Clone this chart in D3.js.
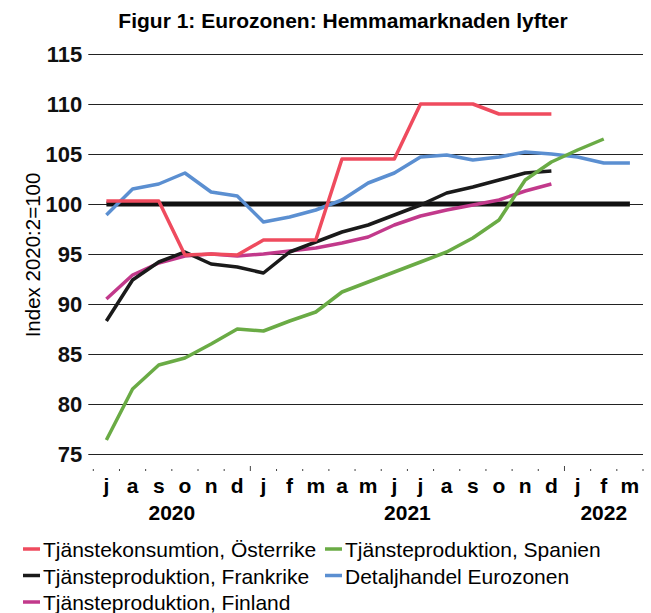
<!DOCTYPE html>
<html>
<head>
<meta charset="utf-8">
<script src="https://cdn.jsdelivr.net/npm/d3@7"></script>
<style>
  body { margin: 0; background: #fff; }
  svg { font-family: "Liberation Sans", Arial, sans-serif; }
</style>
</head>
<body>
<script>
const months = ['j','a','s','o','n','d','j','f','m','a','m','j','j','a','s','o','n','d','j','f','m'];
const years = [
  { label: '2020', from: 0, to: 6 },
  { label: '2021', from: 6, to: 18 },
  { label: '2022', from: 18, to: 21 }
];
const yTicks = [75, 80, 85, 90, 95, 100, 105, 110, 115];

const osterrike = [100.3,100.3,100.3,94.9,95.0,94.9,96.4,96.4,96.4,104.5,104.5,104.5,110.0,110.0,110.0,109.0,109.0,109.0,null,null,null];
const spanien = [76.4,81.5,83.9,84.6,86.0,87.5,87.3,88.3,89.2,91.2,92.2,93.2,94.2,95.2,96.6,98.4,102.4,104.2,105.4,106.5,null];
const frankrike = [88.3,92.4,94.2,95.2,94.0,93.7,93.1,95.2,96.2,97.2,97.9,98.9,99.9,101.1,101.7,102.4,103.1,103.3,null,null,null];
const detaljhandel = [98.9,101.5,102.0,103.1,101.2,100.8,98.2,98.7,99.4,100.4,102.1,103.1,104.7,104.9,104.4,104.7,105.2,105.0,104.7,104.1,104.1];
const finland = [90.5,92.9,94.1,94.8,95.0,94.8,95.0,95.3,95.6,96.1,96.7,97.9,98.8,99.4,99.9,100.4,101.3,102.0,null,null,null];
const basniva = months.map(() => 100);

const series = [
  { name: 'Tjänsteproduktion, Finland', values: finland, color: '#c2398b' },
  { name: 'Tjänsteproduktion, Frankrike', values: frankrike, color: '#1a1a1a' },
  { name: 'Detaljhandel Eurozonen', values: detaljhandel, color: '#5b8fd1' },
  { name: 'Tjänsteproduktion, Spanien', values: spanien, color: '#6aab45' },
  { name: 'Tjänstekonsumtion, Österrike', values: osterrike, color: '#ef4b5e' }
];

const chartWidth = 651, chartHeight = 613;
const plot = { left: 93.3, right: 643, top: 54, bottom: 454 };

const svg = d3.select('body').append('svg')
  .attr('width', chartWidth)
  .attr('height', chartHeight);

const x = d3.scaleBand()
  .domain(d3.range(months.length))
  .range([plot.left, plot.right]);

const y = d3.scaleLinear()
  .domain([75, 115])
  .range([plot.bottom, plot.top]);

// titel
svg.append('text')
  .attr('x', 343).attr('y', 28)
  .attr('text-anchor', 'middle')
  .attr('font-weight', 'bold')
  .attr('font-size', 21)
  .text('Figur 1: Eurozonen: Hemmamarknaden lyfter');

// y-axel med stödlinjer
const yAxis = d3.axisLeft(y)
  .tickValues(yTicks)
  .tickSize(-(plot.right - plot.left + 5))
  .tickPadding(6);

const gy = svg.append('g')
  .attr('transform', 'translate(' + (plot.left - 5) + ',0)')
  .call(yAxis);
gy.select('.domain').remove();
gy.selectAll('line').attr('stroke', '#222').attr('stroke-width', 1);
gy.selectAll('text')
  .attr('font-size', 22)
  .attr('font-weight', 'bold')
  .attr('fill', '#111')
  .attr('font-family', '"Liberation Sans", Arial, sans-serif');

svg.append('text')
  .attr('transform', 'translate(40,255) rotate(-90)')
  .attr('text-anchor', 'middle')
  .attr('font-size', 20.5)
  .text('Index 2020:2=100');

// x-axel: små streck mellan månader
const tickPos = d3.range(months.length + 1).map(i => plot.left + i * x.step());
const yearBreaks = years.map(d => d.from);
svg.append('g').selectAll('line')
  .data(tickPos)
  .join('line')
  .attr('x1', d => d).attr('x2', d => d)
  .attr('y1', (d, i) => yearBreaks.includes(i) && i > 0 ? 466 : 469)
  .attr('y2', 471)
  .attr('stroke', '#444')
  .attr('stroke-width', 1);

svg.append('g').selectAll('text')
  .data(months)
  .join('text')
  .attr('x', (d, i) => x(i) + x.bandwidth() / 2)
  .attr('y', 493)
  .attr('text-anchor', 'middle')
  .attr('font-size', 21)
  .attr('font-weight', 'bold')
  .text(d => d);

svg.append('g').selectAll('text')
  .data(years)
  .join('text')
  .attr('x', d => (x(d.from) + x(d.to - 1) + x.bandwidth()) / 2)
  .attr('y', 520)
  .attr('text-anchor', 'middle')
  .attr('font-size', 21)
  .attr('font-weight', 'bold')
  .text(d => d.label);

// linjer
const line = d3.line()
  .defined(d => d != null)
  .x((d, i) => x(i) + x.bandwidth() / 2)
  .y(d => y(d));

svg.append('path')
  .attr('d', line(basniva))
  .attr('fill', 'none')
  .attr('stroke', '#111')
  .attr('stroke-width', 5);

svg.append('g').selectAll('path')
  .data(series)
  .join('path')
  .attr('d', d => line(d.values))
  .attr('fill', 'none')
  .attr('stroke', d => d.color)
  .attr('stroke-width', 3.5)
  .attr('stroke-linejoin', 'round');

// legend
const legendItems = [
  { name: 'Tjänstekonsumtion, Österrike', color: '#ef4b5e', col: 0, row: 0 },
  { name: 'Tjänsteproduktion, Spanien', color: '#6aab45', col: 1, row: 0 },
  { name: 'Tjänsteproduktion, Frankrike', color: '#1a1a1a', col: 0, row: 1 },
  { name: 'Detaljhandel Eurozonen', color: '#5b8fd1', col: 1, row: 1 },
  { name: 'Tjänsteproduktion, Finland', color: '#c2398b', col: 0, row: 2 }
];
const colX = [23, 325];
const legend = svg.append('g').selectAll('g')
  .data(legendItems)
  .join('g')
  .attr('transform', d => 'translate(' + colX[d.col] + ',' + (557 + d.row * 26.5) + ')');
legend.append('line')
  .attr('x1', 0).attr('x2', 17)
  .attr('y1', -8).attr('y2', -8)
  .attr('stroke', d => d.color)
  .attr('stroke-width', 3.5);
legend.append('text')
  .attr('x', 20)
  .attr('font-size', 21)
  .text(d => d.name);
</script>
</body>
</html>
